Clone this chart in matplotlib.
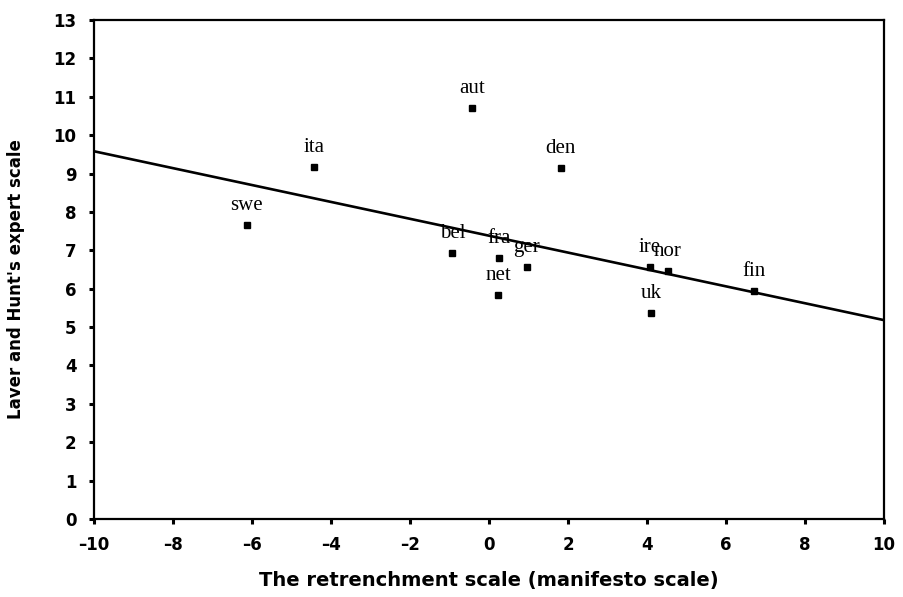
import matplotlib
matplotlib.use("Agg")
import matplotlib.pyplot as plt
import numpy as np

countries = ["swe", "ita", "aut", "den", "bel", "fra", "ger", "net", "ire", "nor", "fin", "uk"]
retrenchment = [-6.14, -4.43, -0.42, 1.81, -0.93, 0.25, 0.95, 0.23, 4.07, 4.52, 6.70, 4.10]
expert = [7.66, 9.17, 10.71, 9.15, 6.94, 6.81, 6.57, 5.84, 6.57, 6.46, 5.94, 5.37]
line_x = [-10, 10]
line_y = [9.58, 5.18]
xticks = list(range(-10, 11, 2))
yticks = list(range(0, 14))

fig = plt.figure(figsize=(9.04, 5.97), dpi=100)
ax = fig.add_axes([0.104, 0.1307, 0.874, 0.8358])

ax.plot(line_x, line_y, color="black", lw=1.9, zorder=2)
ax.plot(retrenchment, expert, ls="none", marker="s", ms=4.3, color="black", zorder=3)
for name, x, y in zip(countries, retrenchment, expert):
    ax.annotate(name, (x, y), xytext=(0, 10.5), textcoords="offset points",
                ha="center", va="baseline", fontsize=15, family="Liberation Serif")

ax.set_xlim(-10, 10)
ax.set_ylim(0, 13)
ax.set_xticks(xticks)
ax.set_yticks(yticks)
ax.set_xticklabels([("\u2013" + str(-t)) if t < 0 else str(t) for t in xticks])
for s in ax.spines.values():
    s.set_linewidth(1.6)
ax.tick_params(direction="out", length=3.5, width=2.2, labelsize=12)
ax.tick_params(axis="x", pad=9)
ax.tick_params(axis="y", pad=9)
for lab in ax.get_xticklabels() + ax.get_yticklabels():
    lab.set_fontweight("bold")
    lab.set_family("DejaVu Sans")
ax.set_xlabel("The retrenchment scale (manifesto scale)", fontsize=14,
              fontweight="bold", family="DejaVu Sans", va="center")
ax.set_ylabel("Laver and Hunt's expert scale", fontsize=12,
              fontweight="bold", family="DejaVu Sans", va="center")
ax.xaxis.set_label_coords(0.5, -0.124)
ax.yaxis.set_label_coords(-0.0986, 0.48)

fig.savefig("out.png", dpi=100)
